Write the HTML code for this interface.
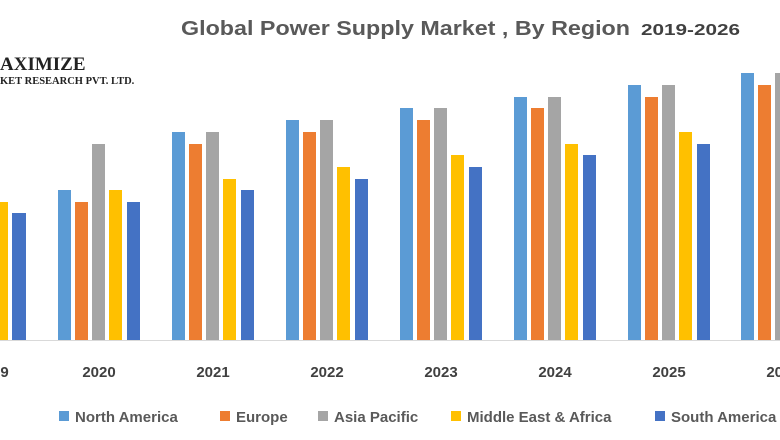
<!DOCTYPE html><html><head><style>body{margin:0;background:#fff}svg{display:block}</style></head><body>
<svg width="780" height="440" xmlns="http://www.w3.org/2000/svg" font-family="Liberation Sans, sans-serif">
<rect width="780" height="440" fill="#fff"/>
<text x="181" y="35" font-size="20" font-weight="bold" fill="#595959" textLength="449" lengthAdjust="spacingAndGlyphs">Global Power Supply Market , By Region</text>
<text x="641" y="35" font-size="16" font-weight="bold" fill="#404040" textLength="99" lengthAdjust="spacingAndGlyphs">2019-2026</text>
<text x="0" y="70" font-family="Liberation Serif, serif" font-weight="bold" font-size="19" fill="#222">AXIMIZE</text>
<text x="0" y="84" font-family="Liberation Serif, serif" font-weight="bold" font-size="10.5" fill="#222">KET RESEARCH PVT. LTD.</text>
<line x1="0" y1="340.5" x2="780" y2="340.5" stroke="#d9d9d9"/>
<g font-size="15" fill="#404040" text-anchor="middle" font-weight="600">
<text x="-8" y="377">2019</text><text x="99" y="377">2020</text><text x="213" y="377">2021</text><text x="327" y="377">2022</text><text x="441" y="377">2023</text><text x="555" y="377">2024</text><text x="669" y="377">2025</text><text x="783" y="377">2026</text>
</g>
<g font-size="15" fill="#595959" font-weight="600">
<rect x="59" y="411" width="10" height="10" fill="#5b9bd5"/><text x="75" y="422">North America</text>
<rect x="220" y="411" width="10" height="10" fill="#ed7d31"/><text x="236" y="422">Europe</text>
<rect x="318" y="411" width="10" height="10" fill="#a5a5a5"/><text x="334" y="422">Asia Pacific</text>
<rect x="451" y="411" width="10" height="10" fill="#ffc000"/><text x="467" y="422">Middle East &amp; Africa</text>
<rect x="655" y="411" width="10" height="10" fill="#4472c4"/><text x="671" y="422">South America</text>
</g>
<g>
<rect x="-56" y="213" width="13" height="127" fill="#5b9bd5"/><rect x="-39" y="225" width="13" height="115" fill="#ed7d31"/><rect x="-22" y="190" width="13" height="150" fill="#a5a5a5"/><rect x="-5" y="202" width="13" height="138" fill="#ffc000"/><rect x="12" y="213" width="14" height="127" fill="#4472c4"/>
<rect x="58" y="190" width="13" height="150" fill="#5b9bd5"/><rect x="75" y="202" width="13" height="138" fill="#ed7d31"/><rect x="92" y="144" width="13" height="196" fill="#a5a5a5"/><rect x="109" y="190" width="13" height="150" fill="#ffc000"/><rect x="127" y="202" width="13" height="138" fill="#4472c4"/>
<rect x="172" y="132" width="13" height="208" fill="#5b9bd5"/><rect x="189" y="144" width="13" height="196" fill="#ed7d31"/><rect x="206" y="132" width="13" height="208" fill="#a5a5a5"/><rect x="223" y="179" width="13" height="161" fill="#ffc000"/><rect x="241" y="190" width="13" height="150" fill="#4472c4"/>
<rect x="286" y="120" width="13" height="220" fill="#5b9bd5"/><rect x="303" y="132" width="13" height="208" fill="#ed7d31"/><rect x="320" y="120" width="13" height="220" fill="#a5a5a5"/><rect x="337" y="167" width="13" height="173" fill="#ffc000"/><rect x="355" y="179" width="13" height="161" fill="#4472c4"/>
<rect x="400" y="108" width="13" height="232" fill="#5b9bd5"/><rect x="417" y="120" width="13" height="220" fill="#ed7d31"/><rect x="434" y="108" width="13" height="232" fill="#a5a5a5"/><rect x="451" y="155" width="13" height="185" fill="#ffc000"/><rect x="469" y="167" width="13" height="173" fill="#4472c4"/>
<rect x="514" y="97" width="13" height="243" fill="#5b9bd5"/><rect x="531" y="108" width="13" height="232" fill="#ed7d31"/><rect x="548" y="97" width="13" height="243" fill="#a5a5a5"/><rect x="565" y="144" width="13" height="196" fill="#ffc000"/><rect x="583" y="155" width="13" height="185" fill="#4472c4"/>
<rect x="628" y="85" width="13" height="255" fill="#5b9bd5"/><rect x="645" y="97" width="13" height="243" fill="#ed7d31"/><rect x="662" y="85" width="13" height="255" fill="#a5a5a5"/><rect x="679" y="132" width="13" height="208" fill="#ffc000"/><rect x="697" y="144" width="13" height="196" fill="#4472c4"/>
<rect x="741" y="73" width="13" height="267" fill="#5b9bd5"/><rect x="758" y="85" width="13" height="255" fill="#ed7d31"/><rect x="775" y="73" width="13" height="267" fill="#a5a5a5"/>
</g>
</svg>
</body></html>
